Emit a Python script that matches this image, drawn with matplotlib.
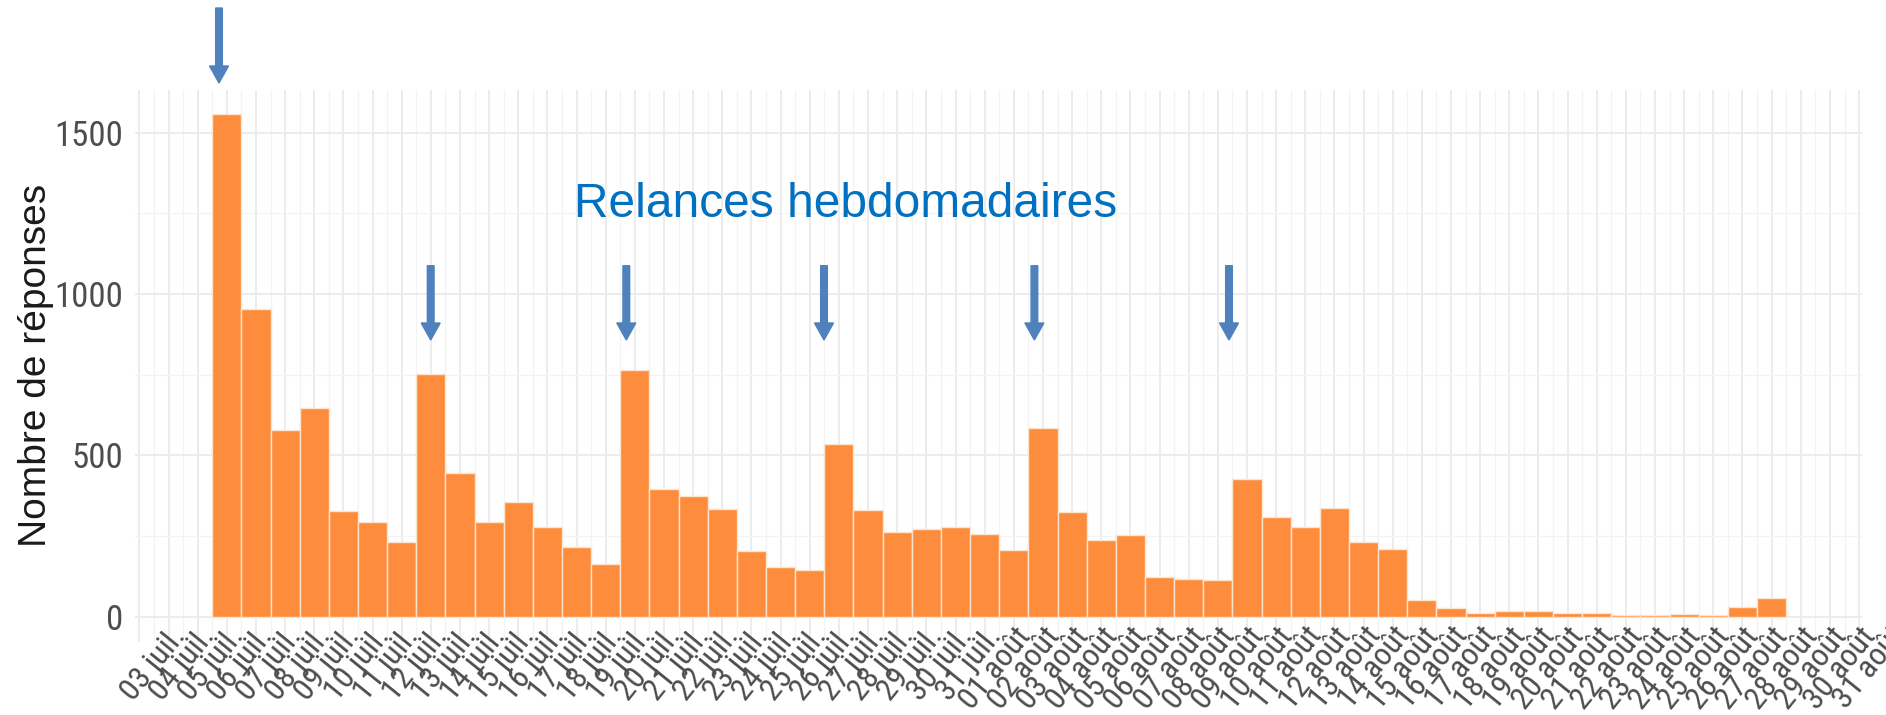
import numpy as np
import pandas as pd
import matplotlib
matplotlib.use("Agg")
import matplotlib.pyplot as plt
from matplotlib import font_manager
from matplotlib.font_manager import FontProperties
from matplotlib.patches import FancyArrow
from matplotlib.transforms import IdentityTransform, ScaledTranslation
from matplotlib.ticker import MultipleLocator

# ---------------- data ----------------
MOIS = {7: "juil.", 8: "août"}
axis_dates = pd.date_range("2023-07-03", "2023-08-31", freq="D")
tick_labels = [f"{d.day:02d} {MOIS[d.month]}" for d in axis_dates]

bar_dates = pd.date_range("2023-07-05", "2023-08-27", freq="D")
responses = [1557, 954, 578, 647, 329, 293, 232, 751, 446, 292, 356, 278, 215, 163,
             766, 397, 375, 334, 204, 155, 144, 535, 330, 263, 271, 278, 256, 208,
             584, 323, 237, 252, 122, 118, 115, 427, 308, 277, 336, 230, 210, 50,
             26, 10, 16, 18, 11, 10, 4, 6, 8, 4, 31, 58]

annotation_text = "Relances hebdomadaires"
y_label = "Nombre de réponses"

# ---------------- fonts ----------------
def find_narrow():
    prefs = ["Liberation Sans Narrow", "Roboto Condensed", "Open Sans Condensed",
             "DejaVu Sans Condensed"]
    fl = font_manager.fontManager.ttflist
    for p in prefs:
        for f in fl:
            if f.name == p and f.style == "normal" and f.weight in (400, "normal", "regular"):
                return f.fname
    for f in fl:
        if (f.name in ("DejaVu Sans", "Roboto", "Open Sans", "Noto Sans")
                and f.stretch in ("condensed", "semi-condensed")
                and f.style == "normal" and f.weight in (400, "normal", "regular")):
            return f.fname
    return None

narrow_file = find_narrow()
if narrow_file:
    tick_fp = FontProperties(fname=narrow_file)
    xsize, ysize = 23, 25
else:
    tick_fp = FontProperties(family="Liberation Sans")
    xsize, ysize = 21, 21
regular = "Liberation Sans"

# ---------------- figure ----------------
W, H = 1886, 715
fig = plt.figure(figsize=(W / 100, H / 100), dpi=100)
left_px, right_px, top_px, bottom_px = 135, 1862, 90, 641.7
ax = fig.add_axes([left_px / W, 1 - bottom_px / H,
                   (right_px - left_px) / W, (bottom_px - top_px) / H])

x_bars = np.array([(d - axis_dates[0]).days for d in bar_dates])
ax.bar(x_bars, responses, width=1.0, color="#FD8D3C",
       edgecolor="#FCE3D0", linewidth=1.0, zorder=2)

ax.set_xlim(-1.15, 58.1)
ax.set_ylim(-77.75, 1632.75)

# grid
ax.set_axisbelow(True)
ax.xaxis.set_major_locator(MultipleLocator(1))
ax.xaxis.set_minor_locator(MultipleLocator(0.5))
ax.yaxis.set_major_locator(MultipleLocator(500))
ax.yaxis.set_minor_locator(MultipleLocator(250))
ax.grid(which="major", color="#EBEBEB", linewidth=1.3)
ax.grid(which="minor", color="#F3F3F3", linewidth=0.9)
for s in ax.spines.values():
    s.set_visible(False)
ax.tick_params(axis="x", which="both", length=0, labelbottom=False)
ax.tick_params(axis="y", which="both", length=0, pad=8.5,
               labelcolor="#4D4D4D")
for lab in ax.get_yticklabels():
    lab.set_fontproperties(tick_fp)
    lab.set_fontsize(ysize)

# x tick labels drawn as text (last one lies just outside the panel)
xt = ax.get_xaxis_transform() + ScaledTranslation(0, 0, fig.dpi_scale_trans)
y_lab = (bottom_px - 622) / (bottom_px - top_px)
for i, lab in enumerate(tick_labels):
    t = ax.text(i, y_lab, lab, transform=xt, rotation=51, ha="right", va="top",
                rotation_mode="anchor", color="#4D4D4D", clip_on=False,
                fontproperties=tick_fp)
    t.set_fontsize(xsize)

ax.set_ylabel(y_label, fontsize=28, family=regular, color="#1A1A1A")
ax.yaxis.set_label_coords(-0.047, 0.5)

# annotation text
fig.text(574 / W, 1 - 216.7 / H, annotation_text, fontsize=34.5, family=regular,
         color="#0070C0", ha="left", va="baseline")

# arrows (figure pixel positions)
arrow_color = "#4F81BD"
arrows = [(219, 8, 83), (430.7, 265.7, 340), (626.3, 265.7, 340),
          (824, 265.7, 340), (1034.4, 265.7, 340), (1229, 265.7, 340)]
for xp, ytop, ytip in arrows:
    fig.add_artist(FancyArrow(xp, H - ytop, 0, -(ytip - ytop), width=6.7,
                              head_width=19, head_length=17,
                              length_includes_head=True, color=arrow_color,
                              transform=IdentityTransform()))

fig.savefig("out.png", dpi=100)
